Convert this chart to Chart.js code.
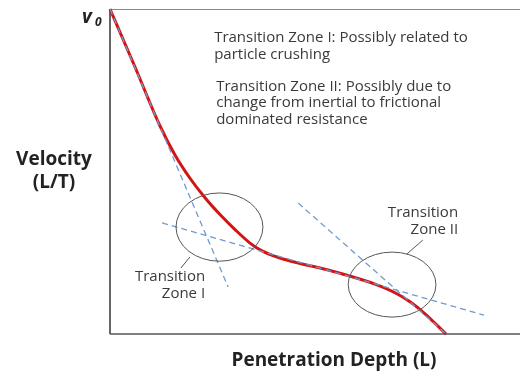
<!DOCTYPE html>
<html>
<head>
<meta charset="utf-8">
<script src="https://cdn.jsdelivr.net/npm/chart.js@4/dist/chart.umd.min.js"></script>
<style>
  html, body { margin: 0; padding: 0; background: #ffffff; }
  #wrap { width: 520px; height: 374px; position: relative; }
</style>
</head>
<body>
<div id="wrap"><canvas id="c"></canvas></div>
<script>
// Velocity decay with penetration depth (arbitrary units: depth 0-100, velocity 0-100 of v0)
const curveDepth    = [0, 6.1, 12.2, 15.85, 19.51, 23.17, 26.83, 30.49, 34.15, 37.07, 41.46, 46.34, 51.22, 58.54, 64.63, 69.51, 73.17, 76.83, 81.95];
const curveVelocity = [100, 82.15, 64.0, 55.08, 47.92, 41.92, 36.75, 32.14, 27.98, 25.58, 23.37, 21.71, 20.29, 17.8, 15.34, 12.69, 9.92, 6.23, 0];

// Straight tangent trends (dashed)
const trendA = [{x: 0, y: 100}, {x: 28.8, y: 14.5}];
const trendB = [{x: 12.7, y: 34.2}, {x: 91.2, y: 5.8}];
const trendC = [{x: 45.9, y: 40.3}, {x: 82.0, y: 0}];

// Transition zones: centre, radius in depth units, radius in velocity units
const zoneNames   = [["Transition", "Zone I"], ["Transition", "Zone II"]];
const zoneCentres = [{x: 26.7, y: 32.9}, {x: 68.8, y: 15.2}];
const zoneRadiiX  = [10.6, 10.7];
const zoneRadiiY  = [10.5, 10.0];
const zoneLeaders = [[{x: 19.5, y: 23.7}, {x: 17.3, y: 20.3}], [{x: 76.3, y: 28.9}, {x: 72.4, y: 24.6}]];
const zoneLabelAt = [{x: 23.2, y: 17.5}, {x: 84.9, y: 37.2}];

// Notes in the upper area
const noteLines = [
  {x: 25.4, y: 91.1, text: "Transition Zone I: Possibly related to"},
  {x: 25.4, y: 85.8, text: "particle crushing"},
  {x: 25.9, y: 76.0, text: "Transition Zone II: Possibly due to"},
  {x: 25.9, y: 71.1, text: "change from inertial to frictional"},
  {x: 25.9, y: 65.8, text: "dominated resistance"}
];

const xTitle = "Penetration Depth (L)";
const yTitle = ["Velocity", "(L/T)"];

const curvePoints = curveDepth.map((d, i) => ({x: d, y: curveVelocity[i]}));

const dashStyle = {
  borderColor: "#6f9bd0",
  borderWidth: 1.3,
  borderDash: [6, 4],
  pointRadius: 0,
  tension: 0,
  clip: false
};

const decorations = {
  id: "decorations",
  afterDatasetsDraw(chart) {
    const {ctx, scales: {x, y}} = chart;
    ctx.save();
    // zones
    ctx.strokeStyle = "#555555";
    ctx.lineWidth = 1;
    zoneCentres.forEach((c, i) => {
      const cx = x.getPixelForValue(c.x), cy = y.getPixelForValue(c.y);
      const rx = x.getPixelForValue(c.x + zoneRadiiX[i]) - cx;
      const ry = cy - y.getPixelForValue(c.y + zoneRadiiY[i]);
      ctx.beginPath();
      ctx.ellipse(cx, cy, rx, ry, 0, 0, Math.PI * 2);
      ctx.stroke();
      const [p, q] = zoneLeaders[i];
      ctx.beginPath();
      ctx.moveTo(x.getPixelForValue(p.x), y.getPixelForValue(p.y));
      ctx.lineTo(x.getPixelForValue(q.x), y.getPixelForValue(q.y));
      ctx.stroke();
    });
    ctx.fillStyle = "#3a3a3a";
    ctx.font = "15px 'Open Sans'";
    ctx.textBaseline = "middle";
    ctx.textAlign = "right";
    zoneLabelAt.forEach((p, i) => {
      const px = x.getPixelForValue(p.x), py = y.getPixelForValue(p.y);
      ctx.fillText(zoneNames[i][0], px, py);
      ctx.fillText(zoneNames[i][1], px, py + 17);
    });
    ctx.textAlign = "left";
    ctx.font = "15px 'Open Sans'";
    noteLines.forEach(n => ctx.fillText(n.text, x.getPixelForValue(n.x), y.getPixelForValue(n.y)));
    ctx.restore();
  },
  beforeDatasetsDraw(chart) {
    const {ctx, chartArea: a, scales: {y}} = chart;
    ctx.save();
    // frame: top (light), left and bottom (dark)
    ctx.lineWidth = 1;
    ctx.strokeStyle = "#8a8a8a";
    ctx.beginPath(); ctx.moveTo(a.left, a.top + 0.5); ctx.lineTo(a.right, a.top + 0.5); ctx.stroke();
    ctx.lineWidth = 1.5;
    ctx.strokeStyle = "#333333";
    ctx.beginPath(); ctx.moveTo(a.left, a.top); ctx.lineTo(a.left, a.bottom); ctx.stroke();
    ctx.strokeStyle = "#555555";
    ctx.beginPath(); ctx.moveTo(a.left, a.bottom); ctx.lineTo(a.right, a.bottom); ctx.stroke();
    // axis titles
    ctx.fillStyle = "#222222";
    ctx.textBaseline = "middle";
    ctx.textAlign = "center";
    ctx.font = "bold 19px 'Open Sans'";
    ctx.fillText(xTitle, 334, a.bottom + 27);
    ctx.fillText(yTitle[0], 54, (a.top + a.bottom) / 2 - 12);
    ctx.fillText(yTitle[1], 54, (a.top + a.bottom) / 2 + 11);
    // v0 marker at the top of the velocity axis
    const vy = y.getPixelForValue(100);
    ctx.textAlign = "left";
    ctx.textBaseline = "alphabetic";
    ctx.font = "italic bold 19px 'Open Sans'";
    ctx.fillText("v", 82, vy + 14);
    ctx.font = "italic bold 12px 'Open Sans'";
    ctx.fillText("0", 95, vy + 17);
    ctx.restore();
  }
};

new Chart(document.getElementById("c"), {
  type: "line",
  data: {
    datasets: [
      Object.assign({data: trendA}, dashStyle),
      Object.assign({data: trendB}, dashStyle),
      Object.assign({data: trendC}, dashStyle),
      {
        data: curvePoints,
        borderColor: "rgba(205, 0, 0, 0.92)",
        borderWidth: 3,
        pointRadius: 0,
        cubicInterpolationMode: "monotone",
        clip: false
      }
    ]
  },
  options: {
    responsive: true,
    maintainAspectRatio: false,
    animation: false,
    layout: {padding: {left: 110, top: 9, right: 0, bottom: 40}},
    plugins: {legend: {display: false}, tooltip: {enabled: false}},
    scales: {
      x: {type: "linear", min: 0, max: 100, display: false},
      y: {type: "linear", min: 0, max: 100, display: false}
    }
  },
  plugins: [decorations]
});
</script>
</body>
</html>
